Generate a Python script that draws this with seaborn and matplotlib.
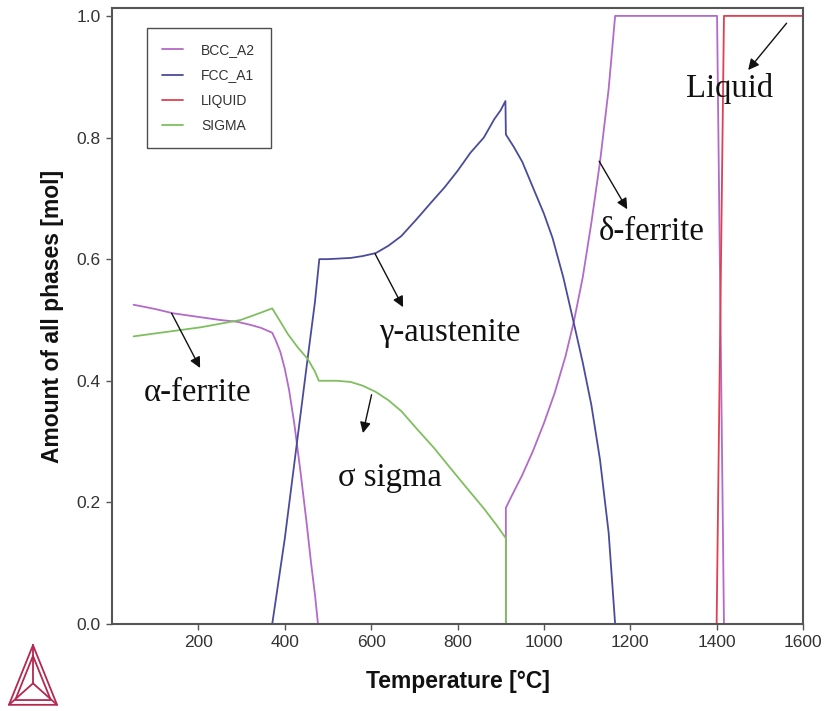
import numpy as np
import pandas as pd
import matplotlib
matplotlib.use("Agg")
import matplotlib.pyplot as plt
import seaborn as sns

# ---------------- data ----------------
bcc_T = [50, 100, 141, 200, 250, 290, 320, 345, 371, 380, 390, 400, 410, 422, 436, 450, 461, 470, 477,
         912, 912, 925, 950, 975, 1000, 1025, 1050, 1069, 1090, 1110, 1130, 1150, 1165, 1401, 1417]
bcc_y = [0.525, 0.518, 0.511, 0.505, 0.500, 0.497, 0.492, 0.487, 0.479, 0.465, 0.447, 0.42, 0.385,
         0.33, 0.253, 0.17, 0.10, 0.048, 0.0,
         0.0, 0.191, 0.21, 0.245, 0.285, 0.33, 0.38, 0.44, 0.496, 0.57, 0.66, 0.76, 0.88, 1.0, 1.0, 0.0]

fcc_T = [371, 400, 425, 450, 470, 480, 500, 553, 580, 611, 640, 670, 707, 740, 770, 800, 830, 861, 885,
         900, 911, 912, 930, 950, 977, 1000, 1020, 1045, 1069, 1090, 1110, 1130, 1150, 1165]
fcc_y = [0.0, 0.14, 0.28, 0.42, 0.53, 0.60, 0.60, 0.602, 0.605, 0.61, 0.622, 0.638, 0.667, 0.694,
         0.718, 0.745, 0.775, 0.80, 0.83, 0.845, 0.86, 0.805, 0.785, 0.76, 0.714, 0.675, 0.635,
         0.57, 0.496, 0.43, 0.36, 0.27, 0.15, 0.0]

liq_T = [1400, 1417, 1600]
liq_y = [0.0, 1.0, 1.0]

sig_T = [50, 206, 298, 337, 371, 390, 407, 430, 453, 470, 479, 520, 553, 580, 610, 640, 670, 707, 745,
         784, 820, 861, 890, 912, 912]
sig_y = [0.473, 0.488, 0.50, 0.51, 0.519, 0.497, 0.477, 0.455, 0.436, 0.415, 0.40, 0.40, 0.398, 0.392,
         0.382, 0.368, 0.35, 0.32, 0.29, 0.256, 0.225, 0.19, 0.163, 0.141, 0.0]

phases = ["BCC_A2", "FCC_A1", "LIQUID", "SIGMA"]
colors = ["#b36ac8", "#4b4b9c", "#e0404f", "#7fbf5f"]

x_ticks = [200, 400, 600, 800, 1000, 1200, 1400, 1600]
y_ticks = [0.0, 0.2, 0.4, 0.6, 0.8, 1.0]

annotations = [
    # text, text position (T, y), arrow tail (T, y), arrow head (T, y)
    ("α-ferrite", (198, 0.381), (138, 0.511), (204, 0.421)),
    ("σ sigma", (643, 0.240), (601, 0.377), (581, 0.314)),
    ("γ-austenite", (782, 0.479), (609, 0.609), (674, 0.521)),
    ("δ-ferrite", (1249, 0.645), (1128, 0.761), (1193, 0.682)),
    ("Liquid", (1430, 0.881), (1562, 0.988), (1473, 0.911)),
]

# ---------------- build long table ----------------
frames = []
for name, T, y in [("BCC_A2", bcc_T, bcc_y), ("FCC_A1", fcc_T, fcc_y),
                   ("LIQUID", liq_T, liq_y), ("SIGMA", sig_T, sig_y)]:
    frames.append(pd.DataFrame({"T": T, "amount": y, "phase": name}))
df = pd.concat(frames, ignore_index=True)

# ---------------- figure ----------------
sns.set_style("ticks")
plt.rcParams["font.family"] = ["Liberation Sans", "DejaVu Sans"]

W, H = 826, 711
fig = plt.figure(figsize=(W / 100, H / 100), dpi=100)
left, right, bottom, top = 112, 803, 624, 8
ax = fig.add_axes([left / W, 1 - bottom / H, (right - left) / W, (bottom - top) / H])

sns.lineplot(data=df, x="T", y="amount", hue="phase", hue_order=phases,
             palette=dict(zip(phases, colors)), sort=False, estimator=None,
             units="phase", linewidth=1.3, ax=ax, legend=True)

ax.set_xlim(0, 1600)
ax.set_ylim(0, 1.013)
ax.set_xticks(x_ticks)
ax.set_xticklabels([str(t) for t in x_ticks])
ax.set_yticks(y_ticks)
ax.set_yticklabels([f"{t:.1f}" for t in y_ticks])
ax.tick_params(axis="both", direction="out", length=4, width=1.0, color="#555555",
               labelsize=12.5, labelcolor="#333333", pad=4)
for s in ax.spines.values():
    s.set_color("#555555")
    s.set_linewidth(1.5)

ax.set_xlabel("Temperature [°C]", fontsize=16.5, fontweight="bold", color="#111111", labelpad=14)
ax.set_ylabel("Amount of all phases [mol]", fontsize=16.5, fontweight="bold", color="#111111", labelpad=9)

leg = ax.legend(loc="upper left", bbox_to_anchor=(0.0507, 0.9675), borderaxespad=0,
                fontsize=10, frameon=True, fancybox=False, handlelength=1.5,
                handletextpad=1.3, labelspacing=0.8, borderpad=1.1)
leg.get_frame().set_edgecolor("#222222")
leg.get_frame().set_linewidth(1.0)
for t in leg.get_texts():
    t.set_color("#333333")

for text, tpos, tail, head in annotations:
    ax.annotate("", xy=head, xytext=tail,
                arrowprops=dict(arrowstyle="-|>", color="#111111", lw=1.0,
                                mutation_scale=16, shrinkA=0, shrinkB=0))
    ax.text(tpos[0], tpos[1], text, fontsize=23.5, ha="center", va="center",
            family=["Liberation Serif", "DejaVu Serif"], color="#111111")

# ---------------- logo ----------------
lax = fig.add_axes([8 / W, 1 - 706 / H, 50 / W, 62 / H])
lax.set_xlim(-0.02, 1.02)
lax.set_ylim(-0.02, 1.02)
lax.axis("off")
lc = "#b5284f"
A, B, C = (0.5, 1.0), (0.0, 0.0), (1.0, 0.0)
A2, B2, C2 = (0.5, 0.82), (0.13, 0.08), (0.87, 0.08)
O = (0.5, 0.36)
for tri in [(A, B, C), (A2, B2, C2)]:
    xs = [p[0] for p in tri] + [tri[0][0]]
    ys = [p[1] for p in tri] + [tri[0][1]]
    lax.plot(xs, ys, color=lc, lw=1.3)
for p in (A, B, C):
    lax.plot([O[0], p[0]], [O[1], p[1]], color=lc, lw=1.3)

fig.savefig("out.png", dpi=100)
